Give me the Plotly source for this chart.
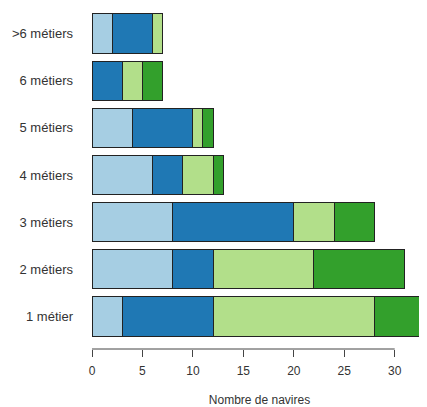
import plotly.graph_objects as go

# categories (bottom to top)
metiers = ['1 métier', '2 métiers', '3 métiers', '4 métiers', '5 métiers', '6 métiers', '>6 métiers']

# stacked segments, one list per colour (left to right)
seg1 = [3, 8, 8, 6, 4, 0, 2]
seg2 = [9, 4, 12, 3, 6, 3, 4]
seg3 = [16, 10, 4, 3, 1, 2, 1]
seg4 = [5, 9, 4, 1, 1, 2, 0]

colors = ['#A6CEE3', '#1F78B4', '#B2DF8A', '#33A02C']
x_ticks = [0, 5, 10, 15, 20, 25, 30]

fig = go.Figure()
for vals, col in zip([seg1, seg2, seg3, seg4], colors):
    fig.add_trace(go.Bar(
        x=vals, y=metiers, orientation='h',
        marker=dict(color=col, line=dict(color='#222222', width=1)),
        showlegend=False,
    ))

# R-style axis line limited to the tick range
fig.add_shape(type='line', xref='x', yref='paper',
              x0=x_ticks[0], x1=x_ticks[-1], y0=0, y1=0,
              line=dict(color='#444444', width=1))

# the page body adds an 8px margin, so the figure is sized to fill the rest
fig.update_layout(
    barmode='stack',
    bargap=0.17,
    width=419, height=399,
    margin=dict(l=84, r=0, t=0, b=58),
    plot_bgcolor='white', paper_bgcolor='white',
    font=dict(family='Liberation Sans, Arial, sans-serif', size=13, color='#333333'),
    xaxis=dict(
        range=[0, 33.2],
        tickvals=x_ticks,
        ticks='outside', ticklen=7, tickcolor='#444444',
        tickfont=dict(size=12),
        ticklabelstandoff=4,
        showgrid=False, zeroline=False, showline=False,
        automargin=False,
        title=dict(text='Nombre de navires', font=dict(size=12), standoff=19),
    ),
    yaxis=dict(
        categoryorder='array', categoryarray=metiers,
        range=[-0.69, 6.54],
        showgrid=False, zeroline=False, showline=False,
        automargin=False,
        ticks='', ticklabelstandoff=18,
    ),
)

fig.write_html('out.html')
